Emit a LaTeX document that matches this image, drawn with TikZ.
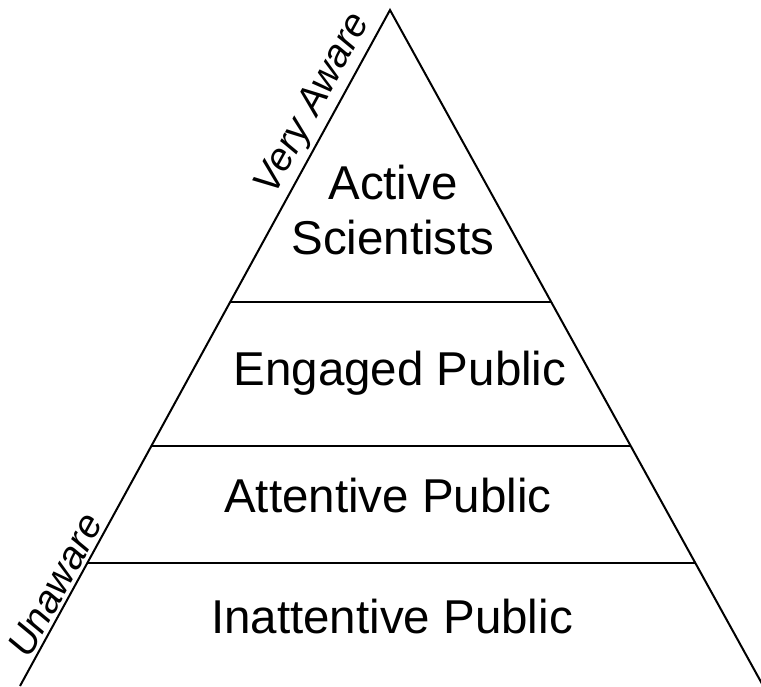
\documentclass[tikz,border=0pt]{standalone}
\usepackage{fontspec}
\setmainfont{Liberation Sans}

\begin{document}
\begin{tikzpicture}[x=1pt,y=-1pt,line width=2pt,
  level/.style={inner sep=0pt,align=center,font=\fontsize{47.5}{55}\selectfont},
  side/.style={inner sep=0pt,font=\itshape\fontsize{39}{42}\selectfont}]
    \useasboundingbox (0,0) rectangle (761,686);
    \clip (0,0) rectangle (761,686);

    \coordinate (apex) at (390,10);
    \coordinate (bl) at (20,686);
    \coordinate (br) at (766,691);

    \draw (bl) -- (apex) -- (br);

    % dividing lines between the levels
    \foreach \y/\n in {302/a,446/b,563/c} {
        \coordinate (l\n) at (intersection of apex--bl and 0,\y--761,\y);
        \coordinate (r\n) at (intersection of apex--br and 0,\y--761,\y);
        \draw (l\n) -- (r\n);
    }

    \node[level] (active) at (393,210) {Active\\Scientists};
    \node[level,anchor=base] (engaged) at (400,385) {Engaged Public};
    \node[level,anchor=base] (attentive) at (388,512) {Attentive Public};
    \node[level,anchor=base] (inattentive) at (392,633) {Inattentive Public};

    \path (bl) -- (apex)
        node[side,sloped,above=3pt,pos=0.845] (veryaware) {Very Aware}
        node[side,sloped,above=3pt,pos=0.137] (unaware) {Unaware};
\end{tikzpicture}
\end{document}
